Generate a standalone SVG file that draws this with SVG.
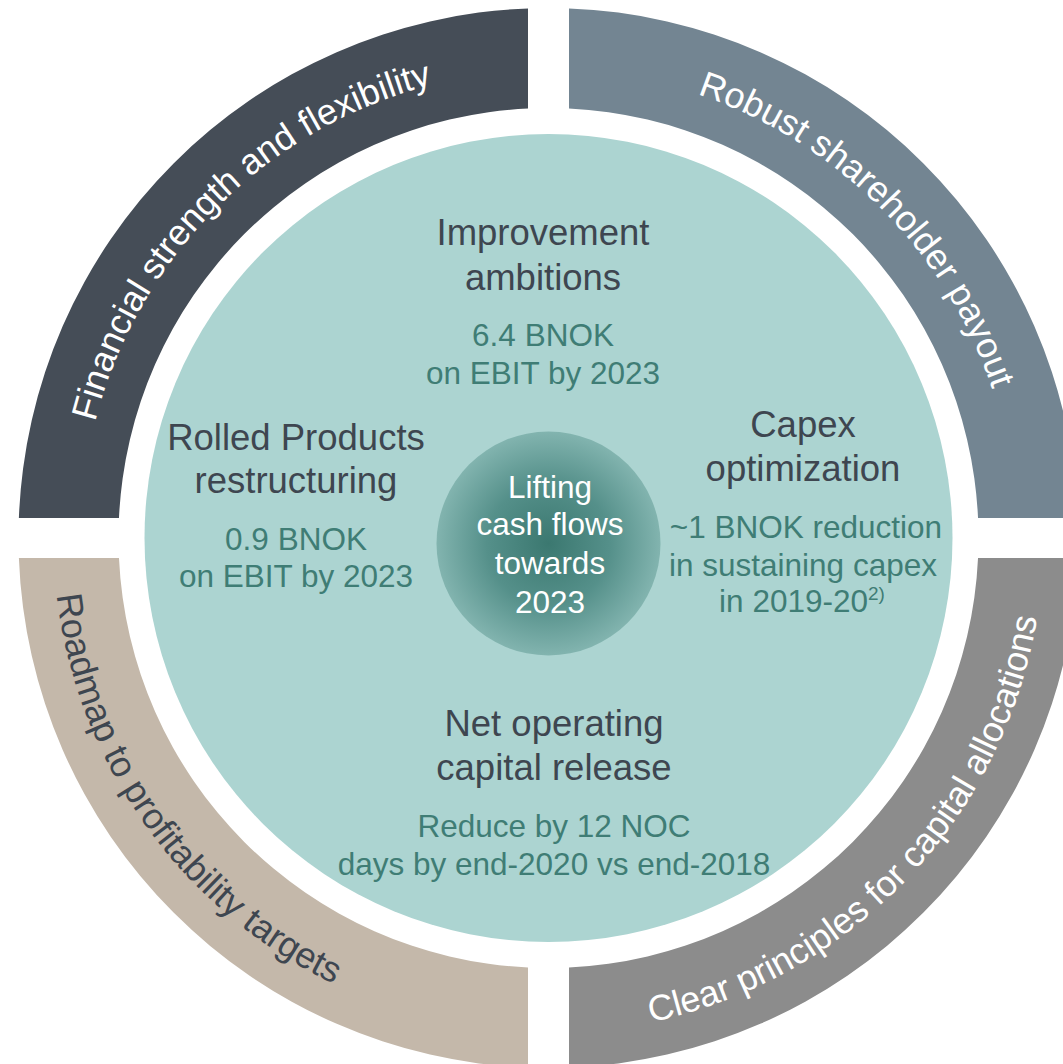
<svg xmlns="http://www.w3.org/2000/svg" width="1063" height="1064" viewBox="0 0 1063 1064">
<style>
  text { font-family: "Liberation Sans", Arial, sans-serif; }
  .arc { font-size: 36px; }
  .h { font-size: 36.5px; fill: #3e4650; text-anchor: middle; }
  .s { font-size: 31.5px; fill: #3f7d75; text-anchor: middle; }
  .c { font-size: 31.5px; fill: #ffffff; text-anchor: middle; }
</style>
<defs>
  <radialGradient id="hub" cx="50%" cy="50%" r="50%">
    <stop offset="0" stop-color="#3b7870"/>
    <stop offset="0.55" stop-color="#55908a"/>
    <stop offset="1" stop-color="#82b4af"/>
  </radialGradient>
  <path id="tpTL" d="M 80.5 538 A 468 468 0 0 1 548.5 70"/>
  <path id="tpTR" d="M 548.5 70 A 468 468 0 0 1 1016.5 538"/>
  <path id="tpBL" d="M 53.5 538 A 495 495 0 0 0 548.5 1033"/>
  <path id="tpBR" d="M 548.5 1033 A 495 495 0 0 0 1043.5 538"/>
</defs>
<rect width="1063" height="1064" fill="#ffffff"/>
<g id="ring-financial">
  <path d="M 528 8.4 A 530 530 0 0 0 18.88 518 L 118.97 518 A 430 430 0 0 1 528 108.49 Z" fill="#454d57"/>
  <text class="arc" fill="#ffffff"><textPath href="#tpTL" startOffset="50%" text-anchor="middle">Financial strength and flexibility</textPath></text>
</g>
<g id="ring-shareholder">
  <path d="M 569 8.4 A 530 530 0 0 1 1078.12 518 L 978.03 518 A 430 430 0 0 0 569 108.49 Z" fill="#738592"/>
  <text class="arc" fill="#ffffff"><textPath href="#tpTR" startOffset="50%" text-anchor="middle">Robust shareholder payout</textPath></text>
</g>
<g id="ring-roadmap">
  <path d="M 18.88 558 A 530 530 0 0 0 528 1067.6 L 528 967.51 A 430 430 0 0 1 118.97 558 Z" fill="#c4b8aa"/>
  <text class="arc" fill="#3e4650"><textPath href="#tpBL" startOffset="39.4%" text-anchor="middle">Roadmap to profitability targets</textPath></text>
</g>
<g id="ring-principles">
  <path d="M 569 1067.6 A 530 530 0 0 0 1078.12 558 L 978.03 558 A 430 430 0 0 1 569 967.51 Z" fill="#8c8c8c"/>
  <text class="arc" fill="#ffffff"><textPath href="#tpBR" startOffset="51.5%" text-anchor="middle">Clear principles for capital allocations</textPath></text>
</g>
<g id="inner-circle">
  <circle cx="548.5" cy="538" r="404" fill="#acd4d1"/>
</g>
<g id="improvement">
  <text class="h" x="543" y="245">Improvement</text>
  <text class="h" x="543" y="290">ambitions</text>
  <text class="s" x="543" y="346">6.4 BNOK</text>
  <text class="s" x="543" y="383.5">on EBIT by 2023</text>
</g>
<g id="rolled">
  <text class="h" x="296" y="449.5">Rolled Products</text>
  <text class="h" x="296" y="492.5">restructuring</text>
  <text class="s" x="296" y="550">0.9 BNOK</text>
  <text class="s" x="296" y="586.5">on EBIT by 2023</text>
</g>
<g id="capex">
  <text class="h" x="803" y="437">Capex</text>
  <text class="h" x="803" y="481">optimization</text>
  <text class="s" x="806" y="538">~1 BNOK reduction</text>
  <text class="s" x="803" y="576">in sustaining capex</text>
  <text class="s" x="802" y="612">in 2019-20<tspan font-size="19" dy="-12">2)</tspan></text>
</g>
<g id="noc">
  <text class="h" x="554" y="736">Net operating</text>
  <text class="h" x="554" y="780">capital release</text>
  <text class="s" x="554" y="837">Reduce by 12 NOC</text>
  <text class="s" x="554" y="875">days by end-2020 vs end-2018</text>
</g>
<g id="hub-node">
  <circle cx="548.5" cy="543.5" r="112" fill="url(#hub)"/>
  <text class="c" x="550" y="497.5">Lifting</text>
  <text class="c" x="550" y="535">cash flows</text>
  <text class="c" x="550" y="573.5">towards</text>
  <text class="c" x="550" y="612.5">2023</text>
</g>
</svg>
